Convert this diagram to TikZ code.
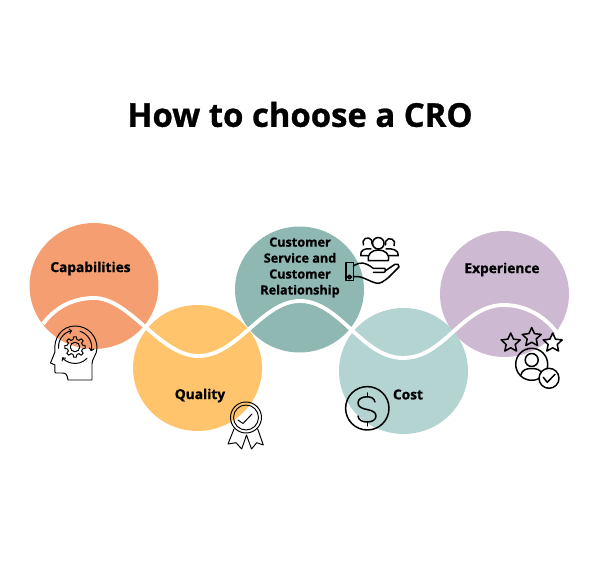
\documentclass[tikz,border=0pt]{standalone}
\usepackage{fontspec}
\setmainfont{Open Sans}[BoldFeatures={FakeBold=0.9}]
\usetikzlibrary{arrows.meta,shapes.geometric}
\definecolor{orange1}{HTML}{F49E72}
\definecolor{yellow1}{HTML}{FFC46C}
\definecolor{teal1}{HTML}{8FB8B2}
\definecolor{teal2}{HTML}{B3D4D0}
\definecolor{purple1}{HTML}{CDB9D1}

\begin{document}
\begin{tikzpicture}[
  x=0.02cm, y=-0.02cm,
  font=\bfseries\fontsize{7.8}{9.07}\selectfont,
  >={Straight Barb[length=1.3pt,width=2.8pt]},
  blob/.style={ellipse, minimum width=2.58cm, minimum height=2.52cm, inner sep=0pt},
  lab/.style={align=center, inner sep=0pt, text=black},
  wave/.style={white, line width=2.2pt},
  icon/.style={black, line width=0.85pt, line join=round, line cap=round},
  thinicon/.style={black, line width=0.55pt, line join=round, line cap=round},
  starmark/.style={draw=black, line width=0.85pt, star, star points=5, star point ratio=2.1,
                   minimum size=0.4cm, inner sep=0pt, line join=round},
]
\useasboundingbox (0,0) rectangle (600,564);

%% ── Title ────────────────────────────────────────────────────────────────────
\node[lab, font=\bfseries\fontsize{18.7}{22}\selectfont] (title) at (300,114.5) {How to choose a CRO};

%% ── Circles ──────────────────────────────────────────────────────────────────
\node[blob, fill=orange1] (capab) at (94,286) {};
\node[blob, fill=teal1]   (serv)  at (299.5,289.5) {};
\node[blob, fill=purple1] (expe)  at (504.5,294) {};
\node[blob, fill=yellow1] (qual)  at (197.5,368) {};
\node[blob, fill=teal2]   (cost)  at (403.5,371) {};

%% ── Wave ─────────────────────────────────────────────────────────────────────
\coordinate (w0) at (43,324);
\coordinate (w1) at (94,298);
\coordinate (w2) at (198,356);
\coordinate (w3) at (300,301);
\coordinate (w4) at (403,358);
\coordinate (w5) at (504,305);
\coordinate (w6) at (557,333);
\draw[wave] (w0) .. controls (56,306) and (75,298) .. (w1)
  .. controls (130,298) and (160,356) .. (w2)
  .. controls (238,356) and (262,301) .. (w3)
  .. controls (340,301) and (362,358) .. (w4)
  .. controls (445,358) and (462,305) .. (w5)
  .. controls (525,305) and (545,316) .. (w6);

%% ── Labels ───────────────────────────────────────────────────────────────────
\node[lab] (capablab) at (90.5,268.5) {Capabilities};
\node[lab] (quallab)  at (200,395.5) {Quality};
\node[lab, font=\bfseries\fontsize{7.2}{9.07}\selectfont] (servlab) at (300,267.5)
  {Customer\\Service and\\Customer\\Relationship};
\node[lab] (costlab)  at (408,394.5) {Cost};
\node[lab] (expelab)  at (502,269.5) {Experience};

%% ── Head icon ────────────────────────────────────────────────────────────────
\draw[thinicon] (92,380) -- (68,380) .. controls (67,374) and (66,373) .. (62,373)
  -- (56,373) .. controls (54,373) and (55,368) .. (55,365) -- (50.5,363)
  -- (55,352) .. controls (53,338) and (62,326) .. (75,326)
  .. controls (88,326) and (97,336) .. (97,348)
  .. controls (97,355) and (92,358) .. (92,364) -- cycle;
\coordinate (gearc) at (75,347);
\begin{scope}[shift={(gearc)}]
  \draw[thinicon] (-14:0.155cm) \foreach \a in {0,45,...,315} {
      -- (\a-14:0.155cm) -- (\a-8:0.205cm) -- (\a+8:0.205cm) -- (\a+14:0.155cm)} -- cycle;
  \draw[thinicon] (0,0) circle[radius=0.095cm];
  \draw[thinicon, ->] (185:0.33cm) arc[start angle=185, end angle=100, radius=0.33cm];
  \draw[thinicon, ->] (72:0.33cm) arc[start angle=72, end angle=-15, radius=0.33cm];
  \draw[thinicon, ->] (-43:0.33cm) arc[start angle=-43, end angle=-141, radius=0.33cm];
\end{scope}

%% ── Medal icon ───────────────────────────────────────────────────────────────
\coordinate (medalc) at (246,417.5);
\draw[thinicon] (medalc) circle[radius=0.31cm];
\draw[thinicon] (medalc) circle[radius=0.25cm];
\draw[thinicon] (238,420) -- (243,423.5) -- (252,414);
\draw[thinicon] (234,429) -- (228,444) -- (236,442.7) -- (241.7,449) -- (246.5,435)
  -- (251.5,449) -- (256.7,442.7) -- (263.3,445) -- (257.7,429);

%% ── People and hand icon ─────────────────────────────────────────────────────
\draw[icon] (346,262.7) rectangle (353.3,280.7);
\draw[icon] (349.5,277) circle[radius=0.035cm];
\draw[icon] (353.3,266) -- (355,265) .. controls (360,262) and (365,262) .. (373.3,268.3)
  -- (384,268.3) .. controls (386,268.3) and (386,272.3) .. (384,272.3) -- (373.3,272.3);
\draw[icon] (385,271) -- (395,264.3) .. controls (397,263) and (400,265) .. (399,267)
  -- (388.3,277.7) .. controls (384,281) and (381,283.3) .. (378,283.3)
  .. controls (372,283) and (364,277) .. (358.3,276.7) -- (353.3,276.7);
\draw[icon] (378.3,243.3) circle[radius=0.115cm];
\draw[icon] (363.5,245) arc[start angle=210, end angle=-20, radius=0.095cm];
\draw[icon] (385.5,245) arc[start angle=200, end angle=-30, radius=0.095cm];
\draw[icon] (368.3,260.7) .. controls (367,254) and (372,250) .. (378.3,250)
  .. controls (385,250) and (390,254) .. (388.3,260.7) -- cycle;
\draw[icon] (371,249) .. controls (365,248) and (360,250) .. (360.7,255.7) -- (368.3,255.7);
\draw[icon] (386,249) .. controls (392,248) and (399,250) .. (398.3,255.7) -- (388.5,255.7);

%% ── Dollar icon ──────────────────────────────────────────────────────────────
\coordinate (dollarc) at (367.3,408.3);
\draw[icon] (dollarc) circle[radius=0.434cm];
\draw[icon] (375,402) .. controls (374,398) and (371,396.8) .. (367,396.8)
  .. controls (362,396.8) and (358,399) .. (358,403)
  .. controls (358,407) and (362,408.5) .. (367,409.5)
  .. controls (372,410.5) and (376,412) .. (376,416)
  .. controls (376,420) and (372,422) .. (367,422)
  .. controls (362,422) and (358.5,420) .. (358,416);
\draw[icon] (367.3,393) -- (367.3,396.8);
\draw[icon] (367.3,422) -- (367.3,426);

%% ── Stars and person icon ────────────────────────────────────────────────────
\node[starmark] (stara) at (510.7,343) {};
\node[starmark] (starb) at (531.7,337.5) {};
\node[starmark] (starc) at (552.7,343) {};
\coordinate (personc) at (531.7,364.3);
\draw[icon] (personc) circle[radius=0.32cm];
\draw[icon] (531.7,360) circle[radius=0.13cm];
\draw[icon] (521,375) .. controls (522,370) and (526,368.5) .. (531.7,368.5)
  .. controls (537,368.5) and (541,370) .. (542,374);
\draw[icon, fill=white] (549,378.3) circle[radius=0.2cm];
\draw[icon] (543.3,377.3) -- (547.3,382.3) -- (555,374.3);
\end{tikzpicture}
\end{document}
